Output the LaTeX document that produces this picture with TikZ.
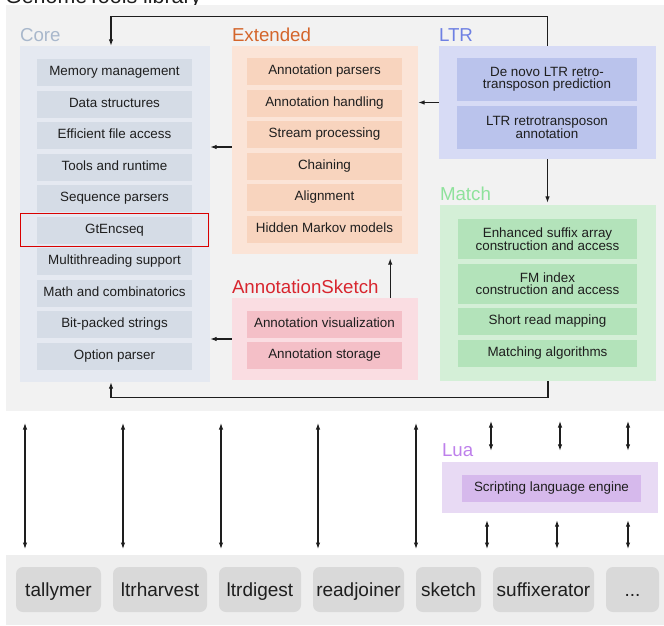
\documentclass[tikz,border=0pt]{standalone}
\usepackage{fontspec}
\setsansfont{Liberation Sans}
\usetikzlibrary{arrows.meta, positioning, fit}
\definecolor{LibGray}{HTML}{F2F2F2}
\definecolor{BarGray}{HTML}{EEEEEE}
\definecolor{ToolGray}{HTML}{D9D9D9}
\definecolor{CoreBox}{HTML}{E5E9F1}
\definecolor{CoreItem}{HTML}{D5DCE6}
\definecolor{CoreText}{HTML}{A9B8CC}
\definecolor{ExtBox}{HTML}{FBE4D7}
\definecolor{ExtItem}{HTML}{F8D4BE}
\definecolor{ExtText}{HTML}{D4652B}
\definecolor{AnnBox}{HTML}{FADDE2}
\definecolor{AnnItem}{HTML}{F4BFC7}
\definecolor{AnnText}{HTML}{D8262F}
\definecolor{LtrBox}{HTML}{D7DBF5}
\definecolor{LtrItem}{HTML}{BAC3EC}
\definecolor{LtrText}{HTML}{6E80E3}
\definecolor{MatchBox}{HTML}{D4EFD7}
\definecolor{MatchItem}{HTML}{B3E3BA}
\definecolor{MatchText}{HTML}{8FE29C}
\definecolor{LuaBox}{HTML}{E8DAF4}
\definecolor{LuaItem}{HTML}{D6B9EC}
\definecolor{LuaText}{HTML}{BE80EB}
\definecolor{InkColor}{HTML}{1E1E1E}
\tikzset{every picture/.style={/utils/exec={\sffamily}}}

\begin{document}
\begin{tikzpicture} [
			x=1pt, y=-1pt,
			every node/.style={inner sep=0, text=InkColor},
			group/.style={rectangle, minimum width=190, minimum height=100},
			grouplabel/.style={anchor=base west, font=\fontsize{18.7}{20}\selectfont},
			item/.style={rectangle, align=center, minimum width=155, minimum height=27, font=\fontsize{13.4}{12}\selectfont, text height=9.6, text depth=3},
			twoline/.style={item, text height=, text depth=, minimum height=43},
			tool/.style={rectangle, rounded corners=7, fill=ToolGray, minimum height=45, font=\fontsize{19}{21}\selectfont, text height=14, text depth=0},
			highlight/.style={draw=red!85!black, line width=0.8pt, inner xsep=16, inner ysep=3},
			arrow/.style={draw=InkColor, line width=1.1pt, -{Latex[length=6.5pt,width=4.5pt]}},
			biarrow/.style={draw=InkColor, line width=1.1pt, {Latex[length=6.5pt,width=4.5pt]}-{Latex[length=6.5pt,width=4.5pt]}}
		]
			\useasboundingbox (0,0) rectangle (664,626);
			\clip (0,0) rectangle (664,626);
			\node at (5,4) [anchor=base west, font=\fontsize{21.4}{24}\selectfont] (title) {GenomeTools library};
			\node at (335,208) [fill=LibGray, minimum width=658, minimum height=406] (lib) {};
			\node at (335,590) [fill=BarGray, minimum width=658, minimum height=70] (bar) {};

			\node at (115,214) [group, fill=CoreBox, minimum width=190, minimum height=336] (core) {};
			\node at (325,150) [group, fill=ExtBox, minimum width=186, minimum height=208] (ext) {};
			\node at (325,339) [group, fill=AnnBox, minimum width=186, minimum height=82] (ann) {};
			\node at (547.5,102.5) [group, fill=LtrBox, minimum width=217, minimum height=113] (ltr) {};
			\node at (548,293) [group, fill=MatchBox, minimum width=216, minimum height=176] (match) {};
			\node at (550,487.5) [group, fill=LuaBox, minimum width=216, minimum height=51] (lua) {};

			\node at ([yshift=4pt]core.north west) [grouplabel, text=CoreText] (coreLbl) {Core};
			\node at ([yshift=4.5pt]ext.north west) [grouplabel, text=ExtText] (extLbl) {Extended};
			\node at ([yshift=4.5pt]ann.north west) [grouplabel, text=AnnText] (annLbl) {AnnotationSketch};
			\node at ([yshift=4.5pt]ltr.north west) [grouplabel, text=LtrText] (ltrLbl) {LTR};
			\node at ([yshift=4pt]match.north west) [grouplabel, text=MatchText] (matchLbl) {Match};
			\node at ([yshift=5pt]lua.north west) [grouplabel, text=LuaText] (luaLbl) {Lua};

			\node at (114.5,72.5) [item, fill=CoreItem] (memory) {Memory management};
			\node at (114.5,104) [item, fill=CoreItem] (datastruct) {Data structures};
			\node at (114.5,135.5) [item, fill=CoreItem] (fileaccess) {Efficient file access};
			\node at (114.5,167) [item, fill=CoreItem] (runtime) {Tools and runtime};
			\node at (114.5,198.5) [item, fill=CoreItem] (seqparsers) {Sequence parsers};
			\node at (114.5,230) [item, fill=CoreItem] (gtencseq) {GtEncseq};
			\node at (114.5,261.5) [item, fill=CoreItem] (threads) {Multithreading support};
			\node at (114.5,293) [item, fill=CoreItem] (mathcomb) {Math and combinatorics};
			\node at (114.5,324.5) [item, fill=CoreItem] (bitpacked) {Bit-packed strings};
			\node at (114.5,356) [item, fill=CoreItem] (optparser) {Option parser};
			\node [highlight, fit=(gtencseq)] (gtencseqHl) {};

			\node at (324.5,71.5) [item, fill=ExtItem] (annparsers) {Annotation parsers};
			\node at (324.5,103) [item, fill=ExtItem] (annhandling) {Annotation handling};
			\node at (324.5,134.5) [item, fill=ExtItem] (streams) {Stream processing};
			\node at (324.5,166) [item, fill=ExtItem] (chaining) {Chaining};
			\node at (324.5,197.5) [item, fill=ExtItem] (alignment) {Alignment};
			\node at (324.5,229) [item, fill=ExtItem] (hmm) {Hidden Markov models};

			\node at (324.5,324.5) [item, fill=AnnItem] (annvis) {Annotation visualization};
			\node at (324.5,355.5) [item, fill=AnnItem] (annstore) {Annotation storage};

			\node at (547,79.5) [twoline, fill=LtrItem, minimum width=180] (denovo) {De novo LTR retro-\\transposon prediction};
			\node at (547,127.5) [twoline, fill=LtrItem, minimum width=180] (ltrannot) {LTR retrotransposon\\annotation};

			\node at (547.5,239) [twoline, fill=MatchItem, minimum width=179, minimum height=40] (esa) {Enhanced suffix array\\construction and access};
			\node at (547.5,284) [twoline, fill=MatchItem, minimum width=179, minimum height=40] (fmindex) {FM index\\construction and access};
			\node at (547.5,321.5) [item, fill=MatchItem, minimum width=179] (readmap) {Short read mapping};
			\node at (547.5,353.5) [item, fill=MatchItem, minimum width=179] (matchalg) {Matching algorithms};

			\node at (551.5,488.5) [item, fill=LuaItem, minimum width=179] (scripting) {Scripting language engine};

			\node at (58.5,589.5) [tool, minimum width=85] (tallymer) {tallymer};
			\node at (160,589.5) [tool, minimum width=94] (ltrharvest) {ltrharvest};
			\node at (260,589.5) [tool, minimum width=82] (ltrdigest) {ltrdigest};
			\node at (358.5,589.5) [tool, minimum width=91] (readjoiner) {readjoiner};
			\node at (448.5,589.5) [tool, minimum width=65] (sketch) {sketch};
			\node at (543.5,589.5) [tool, minimum width=101] (suffixerator) {suffixerator};
			\node at (632.5,589.5) [tool, minimum width=53] (more) {...};

			\draw[arrow] (ltr.north) -- ++(0,-29) -| ([xshift=-4pt]core.north);
			\draw[arrow] (ltr.west) -- (ltr.west -| ext.east);
			\draw[arrow] ([yshift=3pt]ext.west) -- ([yshift=3pt]ext.west -| core.east);
			\draw[arrow] (ann.west) -- (ann.west -| core.east);
			\draw[arrow] ([xshift=-28pt]ann.north east) -- ([xshift=-28pt,yshift=-4pt]ext.south east);
			\draw[arrow] (ltr.south) -- ([yshift=2pt]ltr.south |- match.north);
			\draw[arrow] (match.south) -- ++(0,16) -| ([xshift=-4pt]core.south);

			\coordinate (up1) at (25,423); \coordinate (dn1) at (25,549);
			\coordinate (up2) at (123,423); \coordinate (dn2) at (123,549);
			\coordinate (up3) at (221,423); \coordinate (dn3) at (221,549);
			\coordinate (up4) at (318,423); \coordinate (dn4) at (318,549);
			\coordinate (up5) at (416,423); \coordinate (dn5) at (416,549);
			\coordinate (luaIn1) at (491,421); \coordinate (luaIn2) at (560,421); \coordinate (luaIn3) at (628,421);
			\coordinate (luaOut1) at (487,549); \coordinate (luaOut2) at (557,549); \coordinate (luaOut3) at (628,549);
			\draw[biarrow] (up1) -- (dn1);
			\draw[biarrow] (up2) -- (dn2);
			\draw[biarrow] (up3) -- (dn3);
			\draw[biarrow] (up4) -- (dn4);
			\draw[biarrow] (up5) -- (dn5);
			\draw[biarrow] (luaIn1) -- ([yshift=11pt]luaIn1 |- lua.north);
			\draw[biarrow] (luaIn2) -- ([yshift=11pt]luaIn2 |- lua.north);
			\draw[biarrow] (luaIn3) -- ([yshift=11pt]luaIn3 |- lua.north);
			\draw[biarrow] ([yshift=-7pt]luaOut1 |- lua.south) -- (luaOut1);
			\draw[biarrow] ([yshift=-7pt]luaOut2 |- lua.south) -- (luaOut2);
			\draw[biarrow] ([yshift=-7pt]luaOut3 |- lua.south) -- (luaOut3);
		\end{tikzpicture}
\end{document}
